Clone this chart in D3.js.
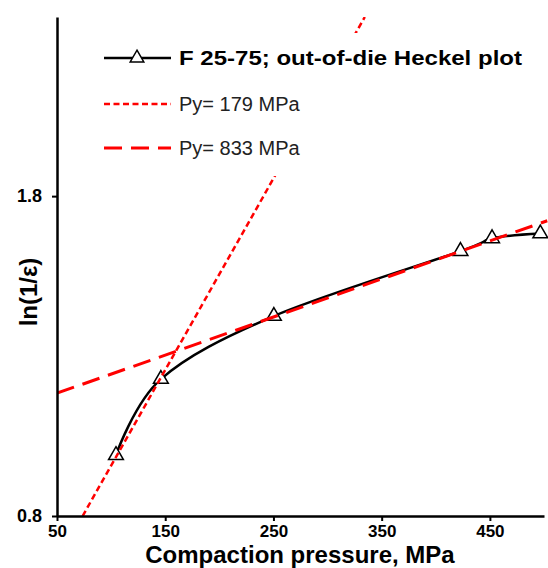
<!DOCTYPE html>
<html>
<head>
<meta charset="utf-8">
<script src="https://cdn.jsdelivr.net/npm/d3@7"></script>
<style>
  body { margin: 0; background: #fff; }
  text { font-family: Arial, "Liberation Sans", sans-serif; }
</style>
</head>
<body>
<svg width="548" height="568"></svg>
<script>
// data
const pressure = [104.5, 146, 250.4, 422.8, 452, 496.6];
const lnInvE = [0.99, 1.228, 1.425, 1.628, 1.668, 1.683];

// fitted lines (end points)
const fit179X = [73.7, 334.4];
const fit179Y = [0.8, 2.36];
const fit833X = [50, 503];
const fit833Y = [1.184, 1.723];

const xTicks = [50, 150, 250, 350, 450];
const yTicks = [0.8, 1.8];

const legendLabels = ['F 25-75; out-of-die Heckel plot', 'Py= 179 MPa', 'Py= 833 MPa'];

const svg = d3.select('svg');

const x = d3.scaleLinear().domain([50, 500]).range([57, 544]);
const y = d3.scaleLinear().domain([0.8, 2.36]).range([516, 17]);

// clip to the plot area
svg.append('clipPath').attr('id', 'plot')
  .append('rect')
    .attr('x', x(50)).attr('y', y(2.36))
    .attr('width', x(500) - x(50) + 10).attr('height', y(0.8) - y(2.36));

const plot = svg.append('g').attr('clip-path', 'url(#plot)');

const line = d3.line().x(d => x(d[0])).y(d => y(d[1]));

// measured curve
const pts = pressure.map((p, i) => [p, lnInvE[i]]);
plot.append('path')
  .attr('d', line.curve(d3.curveCatmullRom.alpha(0))(pts))
  .attr('fill', 'none')
  .attr('stroke', '#000')
  .attr('stroke-width', 2.5);

plot.selectAll('.marker').data(pts).enter()
  .append('path')
    .attr('class', 'marker')
    .attr('d', d3.symbol(d3.symbolTriangle, 95))
    .attr('transform', d => `translate(${x(d[0])},${y(d[1])})`)
    .attr('fill', '#fff')
    .attr('stroke', '#000')
    .attr('stroke-width', 1.5);

// trend lines
const straight = d3.line().x(d => x(d[0])).y(d => y(d[1]));
plot.append('path')
  .attr('d', straight(fit179X.map((v, i) => [v, fit179Y[i]])))
  .attr('stroke', '#ff0000')
  .attr('stroke-width', 2.5)
  .attr('stroke-dasharray', '6,3.5')
  .attr('fill', 'none');

plot.append('path')
  .attr('d', straight(fit833X.map((v, i) => [v, fit833Y[i]])))
  .attr('stroke', '#ff0000')
  .attr('stroke-width', 3)
  .attr('stroke-dasharray', '18,9')
  .attr('fill', 'none');

// axes
const xAxis = svg.append('g')
  .attr('transform', `translate(0,${y(0.8)})`)
  .call(d3.axisBottom(x).tickValues(xTicks).tickSize(5).tickSizeOuter(0));
xAxis.select('.domain').attr('stroke-width', 2.5);
xAxis.selectAll('.tick line').attr('stroke-width', 2);
xAxis.selectAll('.tick text')
  .attr('y', 9)
  .attr('font-size', 17).attr('font-weight', 'bold')
  .attr('font-family', 'Arial, "Liberation Sans", sans-serif')
  .attr('fill', '#000');

const yAxis = svg.append('g')
  .attr('transform', `translate(${x(50)},0)`)
  .call(d3.axisLeft(y).tickValues(yTicks).tickSize(5).tickSizeOuter(0).tickFormat(d3.format('.1f')));
yAxis.select('.domain').attr('stroke-width', 2.5);
yAxis.selectAll('.tick line').attr('stroke-width', 2);
yAxis.selectAll('.tick text')
  .attr('x', -15)
  .attr('font-size', 18).attr('font-weight', 'bold')
  .attr('font-family', 'Arial, "Liberation Sans", sans-serif')
  .attr('fill', '#000');

// axis titles
svg.append('text')
  .attr('x', 300).attr('y', 563)
  .attr('text-anchor', 'middle')
  .attr('font-size', 24).attr('font-weight', 'bold')
  .text('Compaction pressure, MPa');

svg.append('text')
  .attr('transform', 'translate(37,292) rotate(-90)')
  .attr('text-anchor', 'middle')
  .attr('font-size', 24).attr('font-weight', 'bold')
  .text('ln(1/ε)');

// legend
const legend = svg.append('g');
legend.append('rect')
  .attr('x', 95).attr('y', 33).attr('width', 440).attr('height', 143)
  .attr('fill', '#fff');

const rowY = [58, 104, 148];
legend.append('line')
  .attr('x1', 104).attr('x2', 171).attr('y1', rowY[0]).attr('y2', rowY[0])
  .attr('stroke', '#000').attr('stroke-width', 2.5);
legend.append('path')
  .attr('d', d3.symbol(d3.symbolTriangle, 80))
  .attr('transform', `translate(137,${rowY[0]})`)
  .attr('fill', '#fff').attr('stroke', '#000').attr('stroke-width', 1.5);
legend.append('line')
  .attr('x1', 104).attr('x2', 171).attr('y1', rowY[1]).attr('y2', rowY[1])
  .attr('stroke', '#ff0000').attr('stroke-width', 2.5).attr('stroke-dasharray', '6,3.5');
legend.append('line')
  .attr('x1', 104).attr('x2', 171).attr('y1', rowY[2]).attr('y2', rowY[2])
  .attr('stroke', '#ff0000').attr('stroke-width', 3).attr('stroke-dasharray', '18,9');

legend.append('text')
  .attr('x', 179).attr('y', rowY[0] + 7)
  .attr('font-size', 21).attr('font-weight', 'bold')
  .attr('textLength', 343).attr('lengthAdjust', 'spacingAndGlyphs')
  .text(legendLabels[0]);
legend.selectAll('.lbl').data(legendLabels.slice(1)).enter()
  .append('text')
    .attr('x', 179).attr('y', (d, i) => rowY[i + 1] + 7)
    .attr('font-size', 20)
    .attr('fill', '#222')
    .text(d => d);
</script>
</body>
</html>
